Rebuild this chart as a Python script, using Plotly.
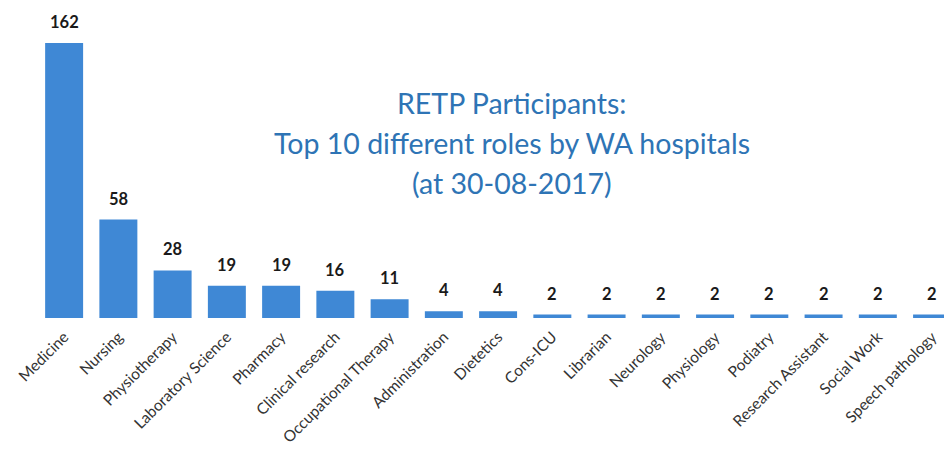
import plotly.graph_objects as go

roles = ["Medicine", "Nursing", "Physiotherapy", "Laboratory Science", "Pharmacy",
         "Clinical research", "Occupational Therapy", "Administration", "Dietetics",
         "Cons-ICU", "Librarian", "Neurology", "Physiology", "Podiatry",
         "Research Assistant", "Social Work", "Speech pathology"]
counts = [162, 58, 28, 19, 19, 16, 11, 4, 4, 2, 2, 2, 2, 2, 2, 2, 2]
title_lines = ["RETP Participants:", "Top 10 different roles by WA hospitals", "(at 30-08-2017)"]

FONT = "Lato"
BAR = "#3f88d5"
TITLE_C = "#2e74b5"

W, H = 944, 457
L, R, T, B = 37, 0, 10, 139
PW, PH = W - L - R, H - T - B

fig = go.Figure()
fig.add_trace(go.Bar(
    x=list(range(len(roles))), y=counts,
    marker=dict(color=BAR, line=dict(width=0)),
    width=0.7, hoverinfo="skip",
))

for i, v in enumerate(counts):
    fig.add_annotation(x=i, y=v, text=f"<b>{v}</b>", showarrow=False,
                       yshift=21, font=dict(family=FONT, size=16.5, color="#1a1a1a"))

for k, line in enumerate(title_lines):
    fig.add_annotation(xref="paper", yref="paper", x=(512 - L) / PW,
                       y=1 - (103 + 40 * k - T) / PH, yanchor="middle",
                       text=line, showarrow=False,
                       font=dict(family=FONT, size=28.5, color=TITLE_C))

fig.update_layout(
    width=W, height=H,
    margin=dict(l=L, r=R, t=T, b=B, autoexpand=False),
    paper_bgcolor="white", plot_bgcolor="white",
    showlegend=False,
    xaxis=dict(range=[-0.5, 16.22], tickmode="array", automargin=False,
               tickvals=list(range(len(roles))), ticktext=roles,
               tickangle=-45, showgrid=False, zeroline=False, showline=False,
               ticks="", ticklabelstandoff=6,
               tickfont=dict(family=FONT, size=15.5, color="#333333")),
    yaxis=dict(range=[0, 181.4], visible=False, showgrid=False, zeroline=False,
               automargin=False),
)

fig.write_html(
    "out.html",
    config={"displayModeBar": False},
    post_script="document.body.style.margin='0';document.body.style.overflow='hidden';",
)
